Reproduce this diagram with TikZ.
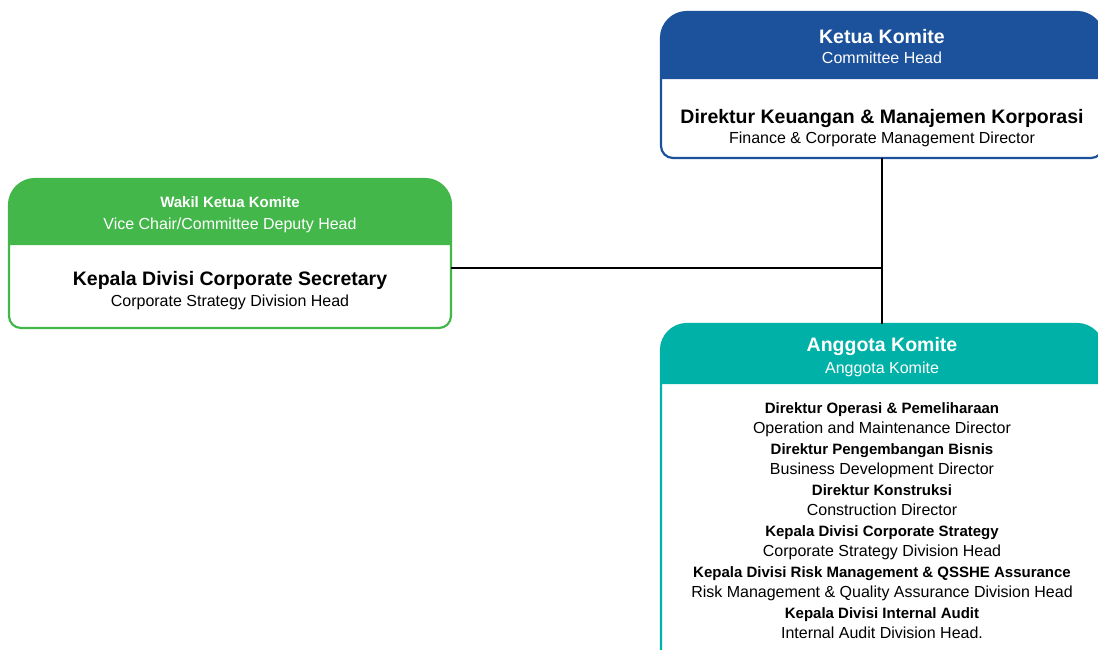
\documentclass[tikz,border=0pt]{standalone}
\usepackage{fontspec}
\setmainfont{Liberation Sans}

\definecolor{ketuablue}{RGB}{28,82,155}
\definecolor{wakilgreen}{RGB}{68,183,75}
\definecolor{anggotateal}{RGB}{0,177,168}

\begin{document}
\begin{tikzpicture}[x=1pt,y=-1pt,
    boxframe/.style={draw=#1,line width=2.2pt,fill=white},
    boxarea/.style={inner sep=0pt,outer sep=0pt},
    headtext/.style={font=\bfseries\fontsize{19.5}{23}\selectfont,text=white,inner sep=0pt,anchor=base},
    smallhead/.style={font=\bfseries\fontsize{15}{18}\selectfont,text=white,inner sep=0pt,anchor=base},
    subhead/.style={font=\fontsize{16}{19}\selectfont,text=white,inner sep=0pt,anchor=base},
    officer/.style={font=\bfseries\fontsize{19.5}{23}\selectfont,inner sep=0pt,anchor=base},
    roletext/.style={font=\fontsize{16}{19}\selectfont,inner sep=0pt,anchor=base},
    members/.style={font=\fontsize{16}{20.5}\selectfont,align=center,inner sep=0pt,anchor=north},
    connector/.style={draw=black,line width=2.4pt}]
\useasboundingbox (0,0) rectangle (1098,649);

% boxes
\draw[boxframe=ketuablue] (661,79) [rounded corners=26] -- (661,12) -- (1103,12) -- (1103,79) [rounded corners=12] -- (1103,158) -- (661,158) -- cycle;
\fill[ketuablue] (661,79) [rounded corners=26] -- (661,12) -- (1103,12) [sharp corners] -- (1103,79) -- cycle;
\node[boxarea,minimum width=442pt,minimum height=146pt] (ketua) at (882,85) {};

\draw[boxframe=wakilgreen] (9,245) [rounded corners=26] -- (9,179) -- (451,179) -- (451,245) [rounded corners=12] -- (451,328) -- (9,328) -- cycle;
\fill[wakilgreen] (9,245) [rounded corners=26] -- (9,179) -- (451,179) [sharp corners] -- (451,245) -- cycle;
\node[boxarea,minimum width=442pt,minimum height=149pt] (wakil) at (230,253.5) {};

\draw[boxframe=anggotateal] (661,384) [rounded corners=26] -- (661,324) -- (1103,324) -- (1103,384) [rounded corners=12] -- (1103,662) -- (661,662) -- cycle;
\fill[anggotateal] (661,384) [rounded corners=26] -- (661,324) -- (1103,324) [sharp corners] -- (1103,384) -- cycle;
\node[boxarea,minimum width=442pt,minimum height=338pt] (anggota) at (882,493) {};

% texts
\node[headtext] (ketuaHead) at (882,43.5) {Ketua Komite};
\node[subhead] (ketuaSub) at (882,63.5) {Committee Head};
\node[officer] (ketuaName) at (882,123) {Direktur Keuangan \& Manajemen Korporasi};
\node[roletext] (ketuaRole) at (882,143.5) {Finance \& Corporate Management Director};

\node[smallhead] (wakilHead) at (230,207.5) {Wakil Ketua Komite};
\node[subhead] (wakilSub) at (230,229) {Vice Chair/Committee Deputy Head};
\node[officer] (wakilName) at (230,285) {Kepala Divisi Corporate Secretary};
\node[roletext] (wakilRole) at (230,306.7) {Corporate Strategy Division Head};

\node[headtext] (anggotaHead) at (882,351.7) {Anggota Komite};
\node[subhead] (anggotaSub) at (882,373.3) {Anggota Komite};
\node[members] (anggotaList) at (882,402) {%
  {\fontsize{15}{20.5}\selectfont\bfseries Direktur Operasi \& Pemeliharaan}\\
  Operation and Maintenance Director\\
  {\fontsize{15}{20.5}\selectfont\bfseries Direktur Pengembangan Bisnis}\\
  Business Development Director\\
  {\fontsize{15}{20.5}\selectfont\bfseries Direktur Konstruksi}\\
  Construction Director\\
  {\fontsize{15}{20.5}\selectfont\bfseries Kepala Divisi Corporate Strategy}\\
  Corporate Strategy Division Head\\
  {\fontsize{15}{20.5}\selectfont\bfseries Kepala Divisi Risk Management \& QSSHE Assurance}\\
  Risk Management \& Quality Assurance Division Head\\
  {\fontsize{15}{20.5}\selectfont\bfseries Kepala Divisi Internal Audit}\\
  Internal Audit Division Head.};

% connectors
\coordinate (junction) at (882,268);
\draw[connector] (ketua.south) -- (anggota.north);
\draw[connector] (wakil.east |- junction) -- (junction);
\end{tikzpicture}
\end{document}
